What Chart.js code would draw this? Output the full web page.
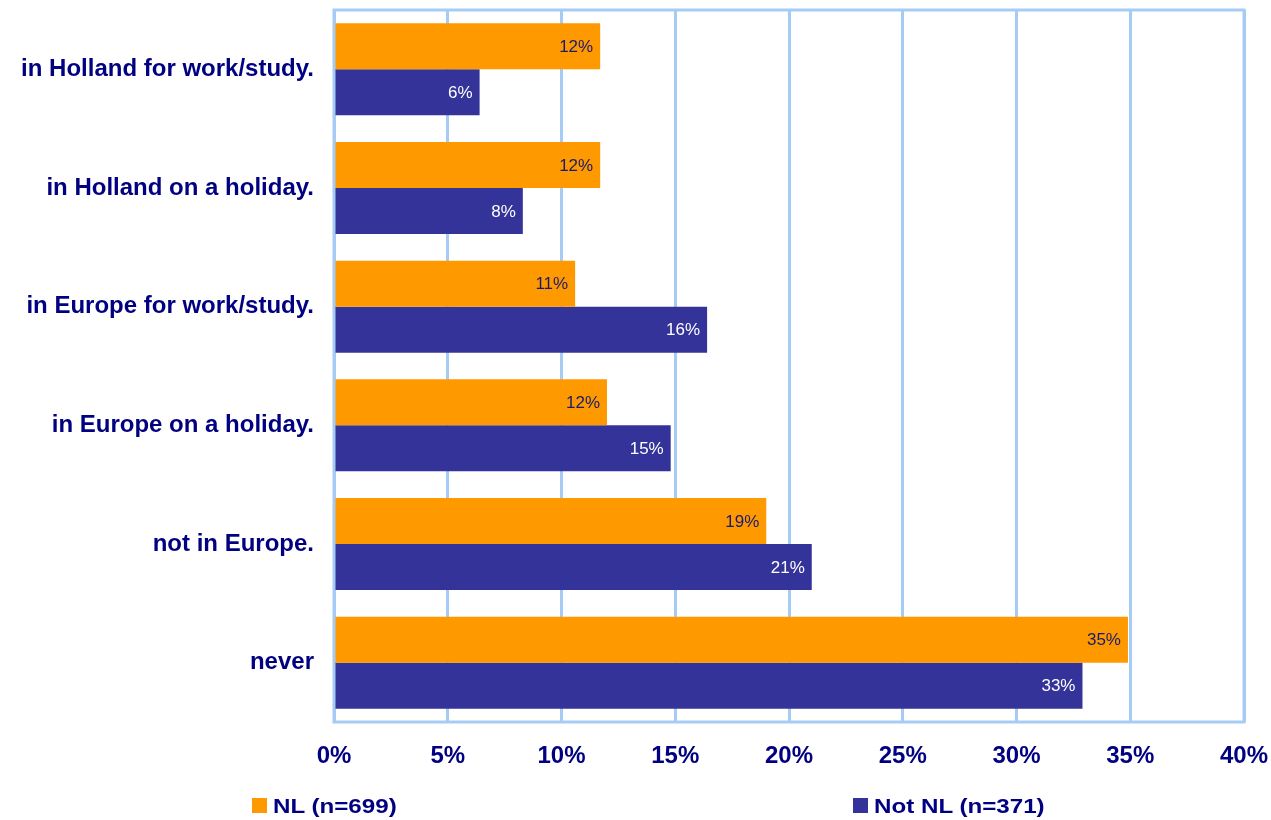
<!DOCTYPE html>
<html>
<head>
<meta charset="utf-8">
<script src="https://cdn.jsdelivr.net/npm/chart.js@4.4.0/dist/chart.umd.min.js"></script>
<style>
  body { margin: 0; background: #fff; }
  #wrap { position: relative; width: 1271px; height: 820px; }
  .leg { position: absolute; top: 795px; font: bold 21px Arial, "Liberation Sans", sans-serif; color: #000080;
         transform: scaleX(1.15); transform-origin: left top; white-space: nowrap; line-height: 21px; }
  .box { position: absolute; top: 798px; width: 15px; height: 15px; }
</style>
</head>
<body>
<div id="wrap">
  <canvas id="barChart" width="1271" height="820"></canvas>
  <div class="box" style="left:252px;background:#FF9900"></div>
  <div class="leg" style="left:273px">NL (n=699)</div>
  <div class="box" style="left:853px;background:#333399"></div>
  <div class="leg" style="left:874px">Not NL (n=371)</div>
</div>
<script>
// categories and values (percent)
var categories = [
  'in Holland for work/study.',
  'in Holland on a holiday.',
  'in Europe for work/study.',
  'in Europe on a holiday.',
  'not in Europe.',
  'never'
];
var nlValues = [11.7, 11.7, 10.6, 12.0, 19.0, 34.9];
var notNlValues = [6.4, 8.3, 16.4, 14.8, 21.0, 32.9];
var xTicks = [0, 5, 10, 15, 20, 25, 30, 35, 40];

// draw value labels inside the end of each bar, and the box round the plot
var barLabels = {
  id: 'barLabels',
  beforeDatasetsDraw: function(chart) {
    var ctx = chart.ctx;
    var a = chart.chartArea;
    ctx.save();
    ctx.strokeStyle = '#A6CCF5';
    ctx.lineWidth = 3;
    ctx.strokeRect(a.left, a.top, a.right - a.left, a.bottom - a.top);
    ctx.restore();
  },
  afterDatasetsDraw: function(chart) {
    var ctx = chart.ctx;
    ctx.save();
    ctx.font = '17px Arial, "Liberation Sans", sans-serif';
    ctx.textAlign = 'right';
    ctx.textBaseline = 'middle';
    chart.data.datasets.forEach(function(ds, i) {
      var meta = chart.getDatasetMeta(i);
      meta.data.forEach(function(bar, j) {
        ctx.fillStyle = i === 0 ? '#1A1A6E' : '#FFFFFF';
        ctx.fillText(Math.round(ds.data[j]) + '%', bar.x - 7, bar.y + 1);
      });
    });
    ctx.restore();
  }
};

var ctx = document.getElementById('barChart').getContext('2d');
var barChart = new Chart(ctx, {
  type: 'bar',
  data: {
    labels: categories,
    datasets: [
      { label: 'NL (n=699)', data: nlValues, backgroundColor: '#FF9900' },
      { label: 'Not NL (n=371)', data: notNlValues, backgroundColor: '#333399' }
    ]
  },
  options: {
    indexAxis: 'y',
    responsive: false,
    animation: false,
    categoryPercentage: 0.775,
    barPercentage: 1.0,
    layout: { padding: { top: 10, right: 27, left: 0, bottom: 0 } },
    plugins: { legend: { display: false }, tooltip: { enabled: false } },
    scales: {
      x: {
        min: 0,
        max: 40,
        afterBuildTicks: function(scale) {
          scale.ticks = xTicks.map(function(v) { return { value: v }; });
        },
        afterFit: function(scale) {
          scale.height = 98;
          scale.paddingLeft = 0;
          scale.paddingRight = 0;
        },
        grid: { color: '#A6CCF5', lineWidth: 3, drawTicks: false },
        border: { display: false },
        ticks: {
          padding: 20,
          color: '#000080',
          font: { family: 'Arial, "Liberation Sans", sans-serif', size: 24, weight: 'bold' },
          callback: function(v) { return v + '%'; }
        }
      },
      y: {
        afterFit: function(scale) {
          scale.width = 334;
          scale.paddingTop = 0;
          scale.paddingBottom = 0;
        },
        grid: { display: false, drawTicks: false },
        border: { display: false },
        ticks: {
          padding: 20,
          color: '#000080',
          font: { family: 'Arial, "Liberation Sans", sans-serif', size: 24, weight: 'bold' }
        }
      }
    }
  },
  plugins: [barLabels]
});
</script>
</body>
</html>
